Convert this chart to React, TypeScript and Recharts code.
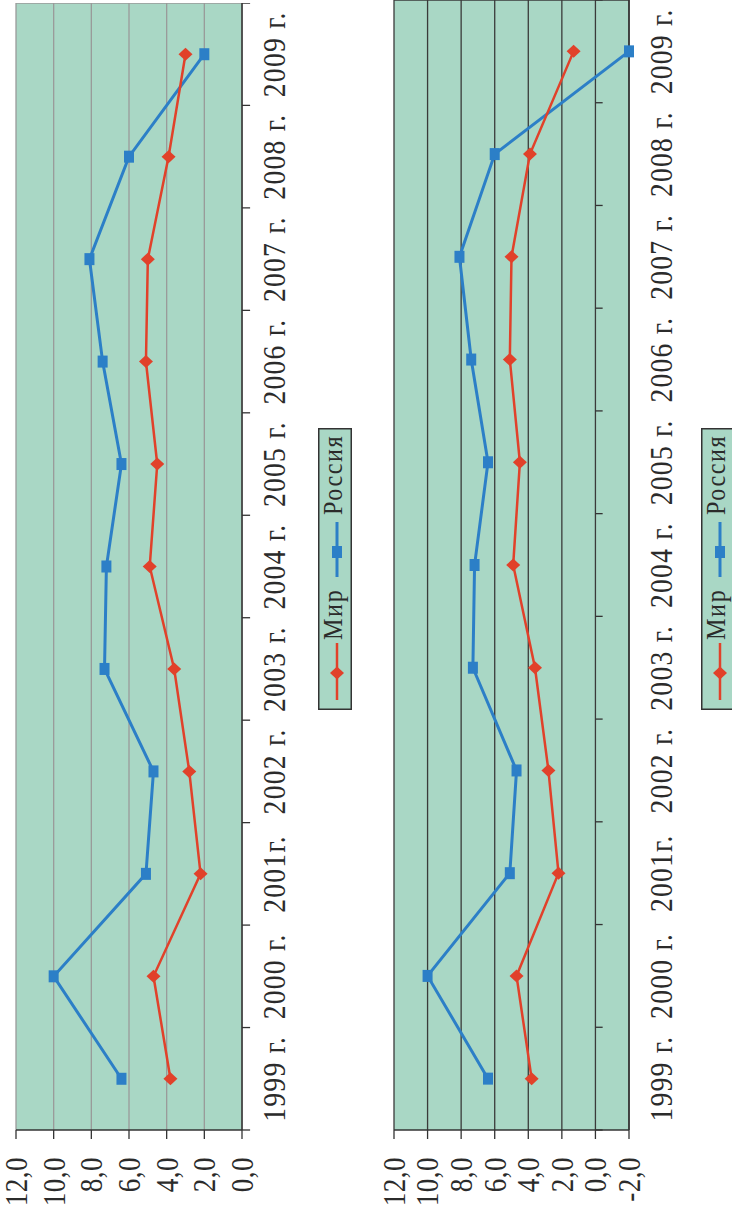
import React from "react";
import { LineChart, Line, XAxis, YAxis, CartesianGrid, ReferenceLine } from "recharts";

// categories and values (growth, %)
const years = ["1999 г.", "2000 г.", "2001г.", "2002 г.", "2003 г.", "2004 г.", "2005 г.", "2006 г.", "2007 г.", "2008 г.", "2009 г."];
const worldTop = [3.8, 4.7, 2.2, 2.8, 3.6, 4.9, 4.5, 5.1, 5.0, 3.9, 3.0];
const russiaTop = [6.4, 10.0, 5.1, 4.7, 7.3, 7.2, 6.4, 7.4, 8.1, 6.0, 2.0];
const worldBottom = [3.8, 4.7, 2.2, 2.8, 3.6, 4.9, 4.5, 5.1, 5.0, 3.9, 1.3];
const russiaBottom = [6.4, 10.0, 5.1, 4.7, 7.3, 7.2, 6.4, 7.4, 8.1, 6.0, -2.0];
const ticksTop = [0, 2, 4, 6, 8, 10, 12];
const ticksBottom = [-2, 0, 2, 4, 6, 8, 10, 12];

const FONT = "'Liberation Serif', 'Times New Roman', serif";
const RED = "#e1412a";
const BLUE = "#2c7fc7";
const PLOT_FILL = "#a9d7c5";
const DARK = "#333";

const fmt = (v: number) => v.toFixed(1).replace(".", ",");

const YearTick = (props: any) => {
    const { x, y, payload } = props;
    return (
        <g transform={`translate(${x},${y})`}>
            <text x={0} y={43} textAnchor="middle" style={{ fontFamily: FONT }} fontSize={32} fill="#2b2b2b" letterSpacing={1.5} transform="scale(0.86,1)">
                {payload.value}
            </text>
        </g>
    );
};

const ValueTick = (props: any) => {
    const { x, y, payload } = props;
    return (
        <g transform={`translate(${x},${y})`}>
            <text x={0} y={0} dy="0.34em" textAnchor="end" style={{ fontFamily: FONT }} fontSize={32} fill="#2b2b2b" letterSpacing={0.5} transform="scale(0.85,1)">
                {fmt(payload.value)}
            </text>
        </g>
    );
};

const diamond = (p: any) => {
    const { cx, cy, index } = p;
    if (cx == null || cy == null) return <g key={index} />;
    return <polygon key={index} points={`${cx},${cy - 7} ${cx + 6.5},${cy} ${cx},${cy + 7} ${cx - 6.5},${cy}`} fill={RED} />;
};

const square = (p: any) => {
    const { cx, cy, index } = p;
    if (cx == null || cy == null) return <g key={index} />;
    return <rect key={index} x={cx - 6} y={cy - 5} width={12} height={10} fill={BLUE} />;
};

function Legend({ top }: { top: number }) {
    return (
        <div style={{ position: "absolute", left: 502, top, width: 282, height: 34 }}>
            <svg width={282} height={34}>
                <rect x={0.75} y={0.75} width={280.5} height={32.5} fill={PLOT_FILL} stroke={DARK} strokeWidth={1.5} />
                <line x1={10} y1={19} x2={67} y2={19} stroke={RED} strokeWidth={2.5} />
                <polygon points="37,12 43.5,19 37,26 30.5,19" fill={RED} />
                <text x={70} y={24} style={{ fontFamily: FONT }} fontSize={28} fill="#2b2b2b" letterSpacing={2} transform="translate(70,0) scale(0.86,1) translate(-70,0)">
                    Мир
                </text>
                <line x1={133} y1={19} x2={188} y2={19} stroke={BLUE} strokeWidth={3} />
                <rect x={152} y={14} width={12} height={10} fill={BLUE} />
                <text x={195} y={24} style={{ fontFamily: FONT }} fontSize={28} fill="#2b2b2b" letterSpacing={1.8} transform="translate(195,0) scale(0.86,1) translate(-195,0)">
                    Россия
                </text>
            </svg>
        </div>
    );
}

function GrowthChart(props: {
    world: number[];
    russia: number[];
    ticks: number[];
    width: number;
    height: number;
    top: number;
    marginTop: number;
    axisHeight: number;
    gridColor: string;
}) {
    const { world, russia, ticks, width, height, top, marginTop, axisHeight, gridColor } = props;
    const data = years.map((year, i) => ({ year, world: world[i], russia: russia[i] }));
    const lo = ticks[0];
    const hi = ticks[ticks.length - 1];

    return (
        <div style={{ position: "absolute", left: 0, top }}>
            <LineChart width={width} height={height} data={data} margin={{ top: marginTop, right: 0, left: 0, bottom: 0 }}>
                <CartesianGrid vertical={false} stroke={gridColor} strokeWidth={1.3} fill={PLOT_FILL} fillOpacity={1} />
                <XAxis
                    dataKey="year"
                    scale="band"
                    interval={0}
                    height={axisHeight}
                    tickLine={false}
                    tickSize={0}
                    tickMargin={0}
                    axisLine={{ stroke: DARK, strokeWidth: 1.5 }}
                    tick={<YearTick />}
                />
                <YAxis
                    domain={[lo, hi]}
                    ticks={ticks}
                    interval={0}
                    width={82}
                    tickSize={9}
                    tickMargin={18}
                    axisLine={{ stroke: DARK, strokeWidth: 1.5 }}
                    tickLine={{ stroke: DARK, strokeWidth: 1.3 }}
                    tick={<ValueTick />}
                />
                <ReferenceLine x={years[years.length - 1]} position="end" stroke={gridColor} strokeWidth={1.5} />
                {years.map((yr) => (
                    <ReferenceLine
                        key={yr}
                        segment={[{ x: yr, y: 0 }, { x: yr, y: -0.43 }]}
                        position="start"
                        ifOverflow="visible"
                        stroke={DARK}
                        strokeWidth={1.3}
                    />
                ))}
                <ReferenceLine
                    segment={[{ x: years[years.length - 1], y: 0 }, { x: years[years.length - 1], y: -0.43 }]}
                    position="end"
                    ifOverflow="visible"
                    stroke={DARK}
                    strokeWidth={1.3}
                />
                <Line dataKey="russia" stroke={BLUE} strokeWidth={3} dot={square} activeDot={false} isAnimationActive={false} />
                <Line dataKey="world" stroke={RED} strokeWidth={2.5} dot={diamond} activeDot={false} isAnimationActive={false} />
            </LineChart>
        </div>
    );
}

export default function App() {
    return (
        <div style={{ position: "absolute", left: 0, top: 0, width: 732, height: 1212, overflow: "hidden", background: "#fff" }}>
            {/* the chart is laid out lying on its side, then turned a quarter counter-clockwise */}
            <div
                style={{
                    position: "absolute",
                    left: 0,
                    top: 0,
                    width: 1212,
                    height: 732,
                    transformOrigin: "0 0",
                    transform: "translateY(1212px) rotate(-90deg)",
                }}
            >
                <GrowthChart world={worldTop} russia={russiaTop} ticks={ticksTop} width={1209} height={360} top={0} marginTop={16} axisHeight={118} gridColor="#9a9a9a" />
                <Legend top={318} />
                <GrowthChart world={worldBottom} russia={russiaBottom} ticks={ticksBottom} width={1212} height={362} top={370} marginTop={24} axisHeight={103} gridColor="#3a3a3a" />
                <Legend top={701} />
            </div>
        </div>
    );
}
